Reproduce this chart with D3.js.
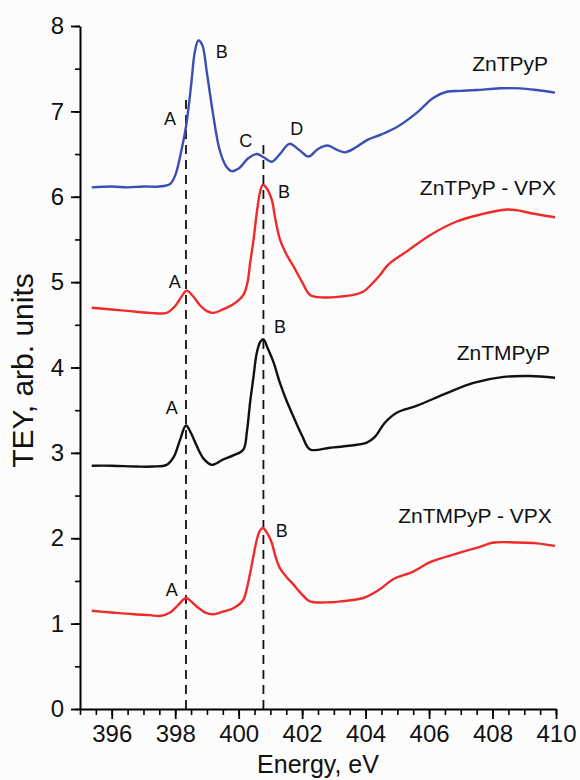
<html>
  <head>
    <script src="https://cdn.jsdelivr.net/npm/d3@7"></script>
  </head>
  <body style="margin:0;background:#fcfcfc;">
    <div id="chart"></div>
    <script>
      // spectra: [energy eV, TEY]
      const znTPyP = [[395.37,6.11],[396.0,6.12],[396.5,6.11],[397.0,6.12],[397.5,6.12],[397.84,6.15],[398.0,6.25],[398.2,6.55],[398.34,6.82],[398.5,7.3],[398.62,7.7],[398.73,7.83],[398.85,7.78],[399.0,7.45],[399.2,6.95],[399.4,6.55],[399.6,6.36],[399.78,6.30],[400.0,6.33],[400.3,6.45],[400.57,6.50],[400.8,6.46],[401.04,6.41],[401.3,6.50],[401.6,6.62],[401.9,6.55],[402.2,6.47],[402.5,6.56],[402.8,6.60],[403.1,6.55],[403.35,6.52],[403.7,6.58],[404.03,6.66],[404.5,6.73],[405.0,6.82],[405.6,6.98],[406.14,7.16],[406.56,7.23],[407.0,7.24],[407.5,7.25],[408.24,7.27],[408.87,7.27],[409.4,7.25],[409.97,7.22]];
      const znTPyPVPX = [[395.37,4.70],[396.0,4.68],[396.58,4.66],[397.2,4.64],[397.73,4.64],[398.0,4.72],[398.2,4.83],[398.36,4.90],[398.55,4.84],[398.8,4.72],[399.0,4.66],[399.2,4.64],[399.5,4.68],[399.83,4.74],[400.15,4.85],[400.28,5.0],[400.36,5.22],[400.47,5.5],[400.57,5.81],[400.67,6.05],[400.76,6.14],[400.88,6.10],[401.04,5.97],[401.15,5.75],[401.3,5.50],[401.5,5.33],[401.72,5.19],[402.0,5.00],[402.25,4.85],[402.67,4.82],[403.2,4.83],[403.61,4.85],[403.93,4.89],[404.2,4.98],[404.45,5.08],[404.7,5.20],[405.3,5.36],[406.03,5.55],[406.87,5.71],[407.6,5.79],[408.45,5.85],[408.8,5.84],[409.18,5.81],[409.97,5.76]];
      const znTMPyP = [[395.37,2.85],[396.0,2.85],[396.79,2.84],[397.3,2.84],[397.73,2.86],[397.95,2.95],[398.15,3.15],[398.34,3.32],[398.5,3.23],[398.68,3.08],[398.9,2.93],[399.15,2.86],[399.5,2.92],[399.83,2.97],[400.15,3.04],[400.26,3.25],[400.36,3.59],[400.47,3.90],[400.57,4.17],[400.68,4.30],[400.78,4.33],[400.92,4.22],[401.1,4.06],[401.3,3.82],[401.5,3.62],[401.72,3.43],[402.0,3.20],[402.25,3.04],[402.88,3.06],[403.4,3.08],[404.04,3.12],[404.3,3.19],[404.6,3.35],[404.98,3.47],[405.6,3.55],[406.56,3.70],[407.4,3.82],[408.35,3.89],[409.18,3.90],[409.97,3.88]];
      const znTMPyPVPX = [[395.37,1.15],[396.0,1.13],[396.68,1.11],[397.2,1.10],[397.52,1.09],[397.84,1.13],[398.1,1.22],[398.34,1.30],[398.5,1.26],[398.68,1.20],[398.95,1.13],[399.2,1.11],[399.5,1.14],[399.83,1.18],[400.15,1.28],[400.25,1.40],[400.36,1.59],[400.47,1.80],[400.57,1.98],[400.67,2.09],[400.76,2.12],[400.9,2.06],[401.04,1.95],[401.15,1.80],[401.3,1.65],[401.5,1.55],[401.72,1.46],[402.0,1.34],[402.25,1.26],[402.88,1.25],[403.2,1.26],[403.93,1.30],[404.4,1.39],[404.87,1.52],[405.5,1.61],[406.03,1.72],[406.87,1.82],[407.6,1.90],[408.03,1.95],[408.77,1.95],[409.4,1.94],[409.97,1.91]];

      const seriesNames = ['ZnTPyP', 'ZnTPyP - VPX', 'ZnTMPyP', 'ZnTMPyP - VPX'];
      const seriesData = [znTPyP, znTPyPVPX, znTMPyP, znTMPyPVPX];
      // where each name sits (energy, TEY), right aligned
      const nameAnchors = [[409.75,7.47],[410.0,6.02],[409.81,4.09],[409.87,2.18]];

      // peak letters: [label, energy, TEY]
      const peakLabels = [['A',397.84,6.84],['B',399.47,7.62],['C',400.22,6.58],['D',401.83,6.72],
                          ['A',397.99,4.93],['B',401.43,5.98],
                          ['A',397.89,3.45],['B',401.30,4.40],
                          ['A',397.89,1.32],['B',401.36,2.01]];
      // dashed guides: [energy, top TEY]
      const guides = [[398.34,7.18],[400.78,6.65]];

      const xTicks = [396,398,400,402,404,406,408,410];
      const yTicks = [0,1,2,3,4,5,6,7,8];

      const width = 580, height = 780;
      const margin = ({top: 26, right: 24, bottom: 71, left: 80});
      const colors = ['#3a4fb2', '#ee2a2a', '#111111', '#ee2a2a'];

      const svg = d3.create('svg')
        .attr('width', width)
        .attr('height', height)
        .style('font-family', 'Arial, "Liberation Sans", sans-serif');

      const x = d3.scaleLinear().domain([395, 410]).range([margin.left, width - margin.right]);
      const y = d3.scaleLinear().domain([0, 8]).range([height - margin.bottom, margin.top]);

      // minor ticks first
      svg.append('g')
        .attr('transform', `translate(0, ${y(0)})`)
        .call(d3.axisBottom(x).tickValues(d3.range(395, 410.01, 0.5)).tickSize(6).tickFormat(''))
        .call(g => g.select('.domain').remove())
        .call(g => g.selectAll('line').attr('stroke-width', 1.6));
      svg.append('g')
        .attr('transform', `translate(${x(395)}, 0)`)
        .call(d3.axisLeft(y).tickValues(d3.range(0, 8.01, 0.5)).tickSize(5).tickFormat(''))
        .call(g => g.select('.domain').remove())
        .call(g => g.selectAll('line').attr('stroke-width', 1.6));

      const xAxis = svg.append('g')
        .attr('transform', `translate(0, ${y(0)})`)
        .call(d3.axisBottom(x).tickValues(xTicks).tickSize(10).tickSizeOuter(0).tickPadding(6))
      xAxis.select('.domain').attr('stroke-width', 2);
      xAxis.selectAll('line').attr('stroke-width', 1.8);
      xAxis.selectAll('text').attr('font-size', 24).attr('fill', '#111');

      const yAxis = svg.append('g')
        .attr('transform', `translate(${x(395)}, 0)`)
        .call(d3.axisLeft(y).tickValues(yTicks).tickSize(9).tickSizeOuter(0).tickPadding(7))
      yAxis.select('.domain').attr('stroke-width', 2);
      yAxis.selectAll('line').attr('stroke-width', 1.8);
      yAxis.selectAll('text').attr('font-size', 24).attr('fill', '#111');

      svg.append('text')
        .attr('x', (x(395) + x(410)) / 2)
        .attr('y', 773)
        .attr('text-anchor', 'middle')
        .attr('font-size', 25)
        .attr('fill', '#111')
        .text('Energy, eV');

      svg.append('text')
        .attr('transform', `translate(33, ${(y(0) + y(8)) / 2 + 3}) rotate(-90)`)
        .attr('text-anchor', 'middle')
        .attr('font-size', 30)
        .attr('fill', '#111')
        .text('TEY, arb. units');

      // dashed guides
      svg.append('g')
        .selectAll('line')
        .data(guides)
        .join('line')
        .attr('x1', d => x(d[0])).attr('x2', d => x(d[0]))
        .attr('y1', y(0)).attr('y2', d => y(d[1]))
        .attr('stroke', '#111')
        .attr('stroke-width', 1.8)
        .attr('stroke-dasharray', '9,6');

      const line = d3.line()
        .x(d => x(d[0]))
        .y(d => y(d[1]))
        .curve(d3.curveCatmullRom.alpha(0.5));

      svg.append('g')
        .selectAll('path')
        .data(seriesData)
        .join('path')
        .attr('d', d => line(d))
        .attr('fill', 'none')
        .attr('stroke', (d, i) => colors[i])
        .attr('stroke-width', 2.4)
        .attr('stroke-linejoin', 'round');

      svg.append('g')
        .selectAll('text')
        .data(seriesNames)
        .join('text')
        .attr('x', (d, i) => x(nameAnchors[i][0]))
        .attr('y', (d, i) => y(nameAnchors[i][1]))
        .attr('text-anchor', 'end')
        .attr('font-size', 21)
        .attr('fill', '#111')
        .text(d => d);

      svg.append('g')
        .selectAll('text')
        .data(peakLabels)
        .join('text')
        .attr('x', d => x(d[1]))
        .attr('y', d => y(d[2]))
        .attr('text-anchor', 'middle')
        .attr('font-size', 18)
        .attr('fill', '#111')
        .text(d => d[0]);

      document.getElementById('chart').appendChild(svg.node());
    </script>
  </body>
</html>
